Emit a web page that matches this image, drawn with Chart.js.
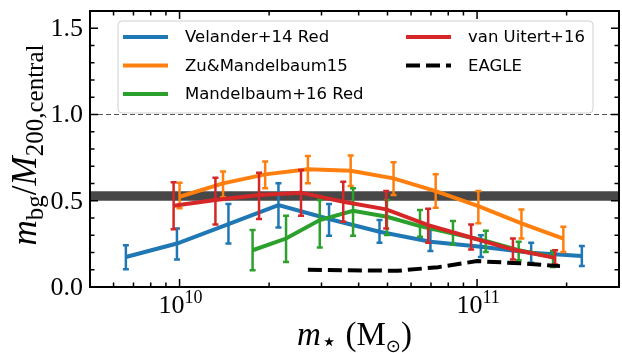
<!DOCTYPE html>
<html>
<head>
<meta charset="utf-8">
<script src="https://cdn.jsdelivr.net/npm/chart.js@4.4.1/dist/chart.umd.min.js"></script>
<style>
  body { margin: 0; background: #fff; }
  canvas { display: block; }
</style>
</head>
<body>
<canvas id="chart" width="622" height="353"></canvas>
<script>
// stellar masses (Msun) and m_bg / M200 for each weak-lensing sample
const velanderMass = [6.6e9, 9.8e9, 1.46e10, 2.15e10, 3.18e10, 4.7e10, 6.97e10, 1.03e11, 1.52e11, 2.25e11]
const velanderVal  = [0.174, 0.252, 0.365, 0.475, 0.394, 0.320, 0.262, 0.233, 0.198, 0.180]
const velanderLo   = [0.103, 0.159, 0.252, 0.345, 0.297, 0.256, 0.209, 0.174, 0.140, 0.122]
const velanderHi   = [0.242, 0.339, 0.481, 0.601, 0.481, 0.388, 0.330, 0.300, 0.256, 0.237]

const zuMass = [1.0e10, 1.40e10, 1.94e10, 2.70e10, 3.76e10, 5.24e10, 7.26e10, 1.01e11, 1.41e11, 1.95e11]
const zuVal  = [0.523, 0.601, 0.653, 0.683, 0.674, 0.630, 0.556, 0.469, 0.369, 0.281]
const zuLo   = [0.456, 0.520, 0.572, 0.601, 0.585, 0.533, 0.459, 0.369, 0.281, 0.203]
const zuHi   = [0.605, 0.669, 0.727, 0.760, 0.762, 0.723, 0.653, 0.556, 0.450, 0.349]

const mandelMass = [1.76e10, 2.28e10, 2.96e10, 3.83e10, 4.98e10, 6.43e10, 8.3e10, 1.07e11, 1.38e11, 1.80e11]
const mandelVal  = [0.213, 0.281, 0.388, 0.442, 0.407, 0.353, 0.310, 0.267, 0.213, 0.174]
const mandelLo   = [0.097, 0.145, 0.229, 0.297, 0.301, 0.291, 0.247, 0.203, 0.155, 0.116]
const mandelHi   = [0.330, 0.413, 0.504, 0.572, 0.504, 0.446, 0.382, 0.326, 0.262, 0.208]

const uitertMass = [9.55e9, 1.32e10, 1.85e10, 2.56e10, 3.55e10, 4.95e10, 6.85e10, 9.55e10, 1.32e11, 1.83e11]
const uitertVal  = [0.471, 0.504, 0.533, 0.547, 0.494, 0.450, 0.359, 0.287, 0.217, 0.169]
const uitertLo   = [0.335, 0.363, 0.394, 0.413, 0.378, 0.339, 0.256, 0.217, 0.159, 0.130]
const uitertHi   = [0.607, 0.634, 0.663, 0.678, 0.610, 0.556, 0.453, 0.363, 0.281, 0.213]

const eagleMass = [2.7e10, 3.7e10, 5.4e10, 7.4e10, 1.0e11, 1.4e11, 1.9e11]
const eagleVal  = [0.100, 0.097, 0.094, 0.115, 0.150, 0.137, 0.121]

// shaded band and reference line
const bandLow = 0.50
const bandHigh = 0.555
const refLine = 1.0

// axes
const xMin = 5e9
const xMax = 3e11
const yMin = 0
const yMax = 1.6
const yTickLabels = ['0.0', '0.5', '1.0', '1.5']
const xMajorTicks = [1e10, 1e11]
const xMajorExp = ['10', '11']

const serif = '"Liberation Serif", "DejaVu Serif", serif'
const sans = '"DejaVu Sans", sans-serif'


function pts(mass, vals) {
    return mass.map((m, i) => ({ x: m, y: vals[i] }))
}

function series(label, color, mass, vals, lo, hi, order) {
    return {
        label: label,
        data: pts(mass, vals),
        borderColor: color,
        backgroundColor: color,
        borderWidth: 4,
        pointRadius: 0,
        tension: 0,
        order: order,
        errLo: lo,
        errHi: hi
    }
}

// draw a run of text pieces (font / vertical shift) starting at x
function richWidth(ctx, parts) {
    let w = 0
    parts.forEach(p => { ctx.font = p.f; w += ctx.measureText(p.t).width })
    return w
}
function drawRich(ctx, parts, x, y) {
    parts.forEach(p => {
        ctx.font = p.f
        ctx.fillText(p.t, x, y + (p.dy || 0))
        x += ctx.measureText(p.t).width
    })
}

const decorPlugin = {
    id: 'decor',
    beforeDatasetsDraw(chart) {
        const { ctx, chartArea: a, scales: { y } } = chart
        ctx.save()
        // grey band
        ctx.fillStyle = '#474747'
        const yb0 = y.getPixelForValue(bandHigh)
        const yb1 = y.getPixelForValue(bandLow)
        ctx.fillRect(a.left, yb0, a.right - a.left, yb1 - yb0)
        // thin dashed line at unity
        ctx.strokeStyle = '#555'
        ctx.lineWidth = 1
        ctx.setLineDash([5, 3])
        const yr = y.getPixelForValue(refLine)
        ctx.beginPath()
        ctx.moveTo(a.left, yr)
        ctx.lineTo(a.right, yr)
        ctx.stroke()
        ctx.restore()
    },
    afterDatasetDraw(chart, args) {
        const ds = chart.data.datasets[args.index]
        if (!ds.errLo) return
        const { ctx, scales: { x, y } } = chart
        ctx.save()
        ctx.strokeStyle = ds.borderColor
        ctx.lineWidth = 2.5
        ctx.lineCap = 'butt'
        ds.data.forEach((p, i) => {
            const px = x.getPixelForValue(p.x)
            const y0 = y.getPixelForValue(ds.errLo[i])
            const y1 = y.getPixelForValue(ds.errHi[i])
            ctx.beginPath()
            ctx.moveTo(px, y0)
            ctx.lineTo(px, y1)
            ctx.moveTo(px - 3, y0)
            ctx.lineTo(px + 3, y0)
            ctx.moveTo(px - 3, y1)
            ctx.lineTo(px + 3, y1)
            ctx.stroke()
        })
        ctx.restore()
    },
    afterDraw(chart) {
        const { ctx, chartArea: a, scales: { x, y } } = chart
        ctx.save()
        ctx.strokeStyle = '#000'
        ctx.fillStyle = '#000'

        // inward ticks on all four sides
        ctx.lineWidth = 1.5
        ctx.beginPath()
        for (let v = 0; v <= yMax + 1e-9; v += 0.1) {
            const major = Math.abs(v * 2 - Math.round(v * 2)) < 1e-6
            const len = major ? 8 : 4.5
            const py = y.getPixelForValue(v)
            ctx.moveTo(a.left, py); ctx.lineTo(a.left + len, py)
            ctx.moveTo(a.right, py); ctx.lineTo(a.right - len, py)
        }
        for (let e = 9; e <= 11; e++) {
            for (let k = 1; k <= 9; k++) {
                const v = k * Math.pow(10, e)
                if (v < xMin || v > xMax) continue
                const len = k === 1 ? 8 : 4.5
                const px = x.getPixelForValue(v)
                ctx.moveTo(px, a.bottom); ctx.lineTo(px, a.bottom - len)
                ctx.moveTo(px, a.top); ctx.lineTo(px, a.top + len)
            }
        }
        ctx.stroke()

        // frame
        ctx.lineWidth = 2
        ctx.strokeRect(a.left, a.top, a.right - a.left, a.bottom - a.top)

        // y tick labels
        ctx.font = '26px ' + serif
        ctx.textAlign = 'right'
        ctx.textBaseline = 'middle'
        yTickLabels.forEach(t => {
            ctx.fillText(t, a.left - 7, y.getPixelForValue(Number(t)) + 1)
        })

        // x tick labels, 10^n
        ctx.textAlign = 'left'
        ctx.textBaseline = 'alphabetic'
        xMajorTicks.forEach((v, i) => {
            const parts = [
                { t: '10', f: '26px ' + serif },
                { t: xMajorExp[i], f: '18px ' + serif, dy: -10 }
            ]
            const w = richWidth(ctx, parts)
            drawRich(ctx, parts, x.getPixelForValue(v) - w / 2 + 1, a.bottom + 26)
        })

        // x axis title
        const xt = [
            { t: 'm', f: 'italic 33px ' + serif },
            { t: '\u22C6', f: '26px ' + sans, dy: 5 },
            { t: ' (M', f: '33px ' + serif },
            { t: '\u2299', f: '18px ' + sans, dy: 7 },
            { t: ')', f: '33px ' + serif }
        ]
        const xw = richWidth(ctx, xt)
        drawRich(ctx, xt, (a.left + a.right) / 2 - xw / 2, a.bottom + 58)

        // y axis title, rotated
        const yt = [
            { t: 'm', f: 'italic 35px ' + serif },
            { t: 'bg', f: '25px ' + serif, dy: 7 },
            { t: '/', f: '35px ' + serif },
            { t: 'M', f: 'italic 35px ' + serif },
            { t: '200,central', f: '25px ' + serif, dy: 7 }
        ]
        const yw = richWidth(ctx, yt)
        ctx.save()
        ctx.translate(36, (a.top + a.bottom) / 2 - 4)
        ctx.rotate(-Math.PI / 2)
        drawRich(ctx, yt, -yw / 2, 0)
        ctx.restore()

        // legend, two columns inside the axes
        const lx = a.left + 28, ly = a.top + 10, lw = 475, lh = 92
        ctx.fillStyle = 'rgba(255,255,255,0.8)'
        ctx.strokeStyle = '#d0d0d0'
        ctx.lineWidth = 1
        ctx.beginPath()
        ctx.roundRect(lx, ly, lw, lh, 4)
        ctx.fill()
        ctx.stroke()

        const slots = [
            [lx + 5, ly + 16], [lx + 5, ly + 44.5], [lx + 5, ly + 73],
            [lx + 288, ly + 16], [lx + 288, ly + 44.5]
        ]
        ctx.font = '16.5px ' + sans
        ctx.textBaseline = 'middle'
        chart.data.datasets.forEach((ds, i) => {
            const [sx, sy] = slots[i]
            ctx.strokeStyle = ds.borderColor
            ctx.lineWidth = 4
            ctx.setLineDash(ds.borderDash || [])
            ctx.beginPath()
            ctx.moveTo(sx, sy)
            ctx.lineTo(sx + 45, sy)
            ctx.stroke()
            ctx.setLineDash([])
            ctx.fillStyle = '#000'
            ctx.fillText(ds.label, sx + 62, sy + 1)
        })
        ctx.restore()
    }
}

const ctx = document.getElementById('chart')

const chart = new Chart(ctx, {
    type: 'line',
    data: {
        datasets: [
            series('Velander+14 Red', '#1f77b4', velanderMass, velanderVal, velanderLo, velanderHi, 5),
            series('Zu&Mandelbaum15', '#ff7f0e', zuMass, zuVal, zuLo, zuHi, 4),
            series('Mandelbaum+16 Red', '#2ca02c', mandelMass, mandelVal, mandelLo, mandelHi, 3),
            series('van Uitert+16', '#d62728', uitertMass, uitertVal, uitertLo, uitertHi, 2),
            {
                label: 'EAGLE',
                data: pts(eagleMass, eagleVal),
                borderColor: '#000',
                borderWidth: 4,
                borderDash: [14, 6],
                pointRadius: 0,
                order: 1
            }
        ]
    },
    options: {
        responsive: false,
        animation: false,
        devicePixelRatio: 1,
        layout: { padding: { left: 90, right: 3, top: 11, bottom: 66 } },
        scales: {
            x: { type: 'logarithmic', min: xMin, max: xMax, display: false },
            y: { type: 'linear', min: yMin, max: yMax, display: false }
        },
        plugins: {
            legend: { display: false },
            tooltip: { enabled: false }
        }
    },
    plugins: [decorPlugin]
})
</script>
</body>
</html>
